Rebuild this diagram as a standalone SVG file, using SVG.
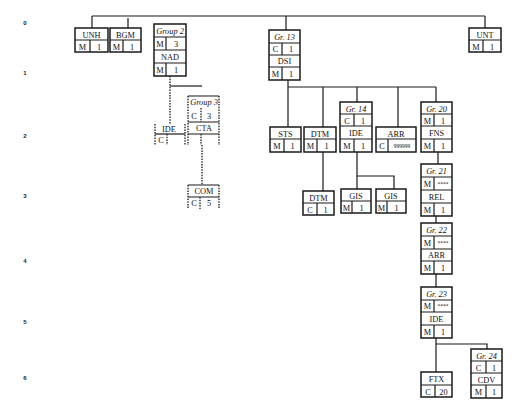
<svg xmlns="http://www.w3.org/2000/svg" width="528" height="417" viewBox="0 0 528 417">
<style>
.bx{fill:none;stroke:#1a1a1a;stroke-width:1.5}
.ln{fill:none;stroke:#1a1a1a;stroke-width:1.2}
.dt{fill:none;stroke:#1a1a1a;stroke-width:1.3;stroke-dasharray:1.5 1.2}
text{font-family:"Liberation Serif","Times New Roman",serif;font-size:8.3px;fill:#111;text-anchor:middle}
.g{font-style:italic}
.s{font-size:5.5px}
.ax{font-family:"Liberation Sans",Arial,sans-serif;font-size:6px;font-weight:bold;fill:#222}
</style>
<rect width="528" height="417" fill="#fff"/>
<g id="axis">
<text class="ax" x="25" y="25">0</text>
<text class="ax" x="25" y="75">1</text>
<text class="ax" x="25" y="138">2</text>
<text class="ax" x="25" y="198">3</text>
<text class="ax" x="25" y="263">4</text>
<text class="ax" x="25" y="324">5</text>
<text class="ax" x="25" y="380">6</text>
</g>
<g id="connectors">
<path class="ln" d="M92,16H485M92,16V28M128,18V28M485,16V28M286,16V30"/>
<path class="ln" d="M288,80V87M288,87H436M288,87V127M323,87V127M357,87V102M398,87V127M436,87V102"/>
<path class="ln" d="M323,152V191M357,152V189M357,176H394V189"/>
<path class="ln" d="M438,152V164M436,216V223M436,274V287M436,338V372M436,344H487V349"/>
<path class="dt" d="M170,76V124"/>
<path class="ln" d="M170,86H202"/>
<path class="dt" d="M202,145V185"/>
</g>
<g id="UNH"><rect class="bx" x="75" y="28" width="33" height="24"/><path class="ln" d="M75,40H108M90,40V52"/><text x="91.5" y="37.5">UNH</text><text x="82.5" y="49.5">M</text><text x="99" y="49.5">1</text></g>
<g id="BGM"><rect class="bx" x="110" y="28" width="31" height="24"/><path class="ln" d="M110,40H141M123,40V52"/><text x="125.5" y="37.5">BGM</text><text x="116.5" y="49.5">M</text><text x="132" y="49.5">1</text></g>
<g id="Group2"><rect class="bx" x="154" y="24" width="32" height="52"/><path class="ln" d="M154,37H186M154,50H186M154,63H186M166,37V50M166,63V76"/><text class="g" x="170" y="34" font-size="7.5">Group 2</text><text x="160" y="47">M</text><text x="176" y="47">3</text><text x="170" y="60">NAD</text><text x="160" y="73">M</text><text x="176" y="73">1</text></g>
<g id="IDE1"><path class="dt" d="M155,124V145M185,124V145M167,134V145"/><path class="ln" d="M155,134H185"/><text x="169" y="132">IDE</text><text x="161" y="143">C</text></g>
<g id="Group3"><path class="ln" d="M188,96H219M188,122H219M188,134H219"/><path class="dt" d="M188,96V145M219,96V145M201,108V122M201,134V145"/><text class="g" x="204" y="105" font-size="7.5">Group 3</text><text x="194" y="119">C</text><text x="209" y="119">3</text><text x="204" y="131">CTA</text></g>
<g id="COM"><path class="ln" d="M188,185H219M188,197H219"/><path class="dt" d="M188,185V209M219,185V209M200,197V209"/><text x="204" y="194">COM</text><text x="194" y="206">C</text><text x="209" y="206">5</text></g>
<g id="Gr13"><rect class="bx" x="269" y="30" width="31" height="50"/><path class="ln" d="M269,43H300M269,55H300M269,67H300M282,43V55M282,67V80"/><text class="g" x="284.5" y="40">Gr. 13</text><text x="275.5" y="52">C</text><text x="291" y="52">1</text><text x="284.5" y="64">DSI</text><text x="275.5" y="77">M</text><text x="291" y="77">1</text></g>
<g id="UNT"><rect class="bx" x="469" y="28" width="32" height="24"/><path class="ln" d="M469,40H501M483,40V52"/><text x="485" y="37.5">UNT</text><text x="476" y="49.5">M</text><text x="492" y="49.5">1</text></g>
<g id="STS"><rect class="bx" x="270" y="127" width="31" height="25"/><path class="ln" d="M270,139H301M284,139V152"/><text x="285.5" y="136.5">STS</text><text x="277" y="149">M</text><text x="292.5" y="149">1</text></g>
<g id="DTM1"><rect class="bx" x="304" y="127" width="32" height="25"/><path class="ln" d="M304,139H336M317,139V152"/><text x="320" y="136.5">DTM</text><text x="310.5" y="149">M</text><text x="326.5" y="149">1</text></g>
<g id="Gr14"><rect class="bx" x="340" y="102" width="32" height="50"/><path class="ln" d="M340,114H372M340,126H372M340,139H372M354,114V126M354,139V152"/><text class="g" x="356" y="111.5">Gr. 14</text><text x="347" y="123.5">C</text><text x="363" y="123.5">1</text><text x="356" y="136">IDE</text><text x="347" y="149">M</text><text x="363" y="149">1</text></g>
<g id="ARR1"><rect class="bx" x="376" y="127" width="40" height="25"/><path class="ln" d="M376,139H416M388,139V152"/><text x="396" y="136.5">ARR</text><text x="382" y="149">C</text><text class="s" x="402" y="148">999999</text></g>
<g id="Gr20"><rect class="bx" x="421" y="102" width="31" height="50"/><path class="ln" d="M421,114H452M421,126H452M421,139H452M434,114V126M434,139V152"/><text class="g" x="436.5" y="111.5">Gr. 20</text><text x="427.5" y="123.5">M</text><text x="443" y="123.5">1</text><text x="436.5" y="136">FNS</text><text x="427.5" y="149">M</text><text x="443" y="149">1</text></g>
<g id="DTM2"><rect class="bx" x="303" y="191" width="31" height="24"/><path class="ln" d="M303,203H334M317,203V215"/><text x="318.5" y="200.5">DTM</text><text x="310" y="212.5">C</text><text x="325.5" y="212.5">1</text></g>
<g id="GIS1"><rect class="bx" x="341" y="189" width="30" height="24"/><path class="ln" d="M341,201H371M352,201V213"/><text x="356" y="198.5">GIS</text><text x="346.5" y="210.5">M</text><text x="361.5" y="210.5">1</text></g>
<g id="GIS2"><rect class="bx" x="376" y="189" width="30" height="24"/><path class="ln" d="M376,201H406M387,201V213"/><text x="391" y="198.5">GIS</text><text x="381.5" y="210.5">M</text><text x="396.5" y="210.5">1</text></g>
<g id="Gr21"><rect class="bx" x="421" y="164" width="31" height="52"/><path class="ln" d="M421,177H452M421,190H452M421,203H452M434,177V190M434,203V216"/><text class="g" x="436.5" y="174">Gr. 21</text><text x="427.5" y="187">M</text><text class="s" x="443" y="186">****</text><text x="436.5" y="200">REL</text><text x="427.5" y="213">M</text><text x="443" y="213">1</text></g>
<g id="Gr22"><rect class="bx" x="421" y="223" width="31" height="51"/><path class="ln" d="M421,236H452M421,249H452M421,261H452M434,236V249M434,261V274"/><text class="g" x="436.5" y="233">Gr. 22</text><text x="427.5" y="246">M</text><text class="s" x="443" y="245">****</text><text x="436.5" y="258">ARR</text><text x="427.5" y="271">M</text><text x="443" y="271">1</text></g>
<g id="Gr23"><rect class="bx" x="421" y="287" width="31" height="51"/><path class="ln" d="M421,300H452M421,312H452M421,325H452M434,300V312M434,325V338"/><text class="g" x="436.5" y="297">Gr. 23</text><text x="427.5" y="309">M</text><text class="s" x="443" y="308">****</text><text x="436.5" y="322">IDE</text><text x="427.5" y="335">M</text><text x="443" y="335">1</text></g>
<g id="FTX"><rect class="bx" x="421" y="372" width="31" height="25"/><path class="ln" d="M421,385H452M435,385V397"/><text x="436.5" y="382">FTX</text><text x="428" y="394.5">C</text><text x="443.5" y="394.5">20</text></g>
<g id="Gr24"><rect class="bx" x="471" y="349" width="31" height="49"/><path class="ln" d="M471,361H502M471,373H502M471,385H502M486,361V373M486,385V398"/><text class="g" x="486.5" y="358.5">Gr. 24</text><text x="478.5" y="370.5">C</text><text x="494" y="370.5">1</text><text x="486.5" y="382.5">CDV</text><text x="478.5" y="395">M</text><text x="494" y="395">1</text></g>
</svg>
